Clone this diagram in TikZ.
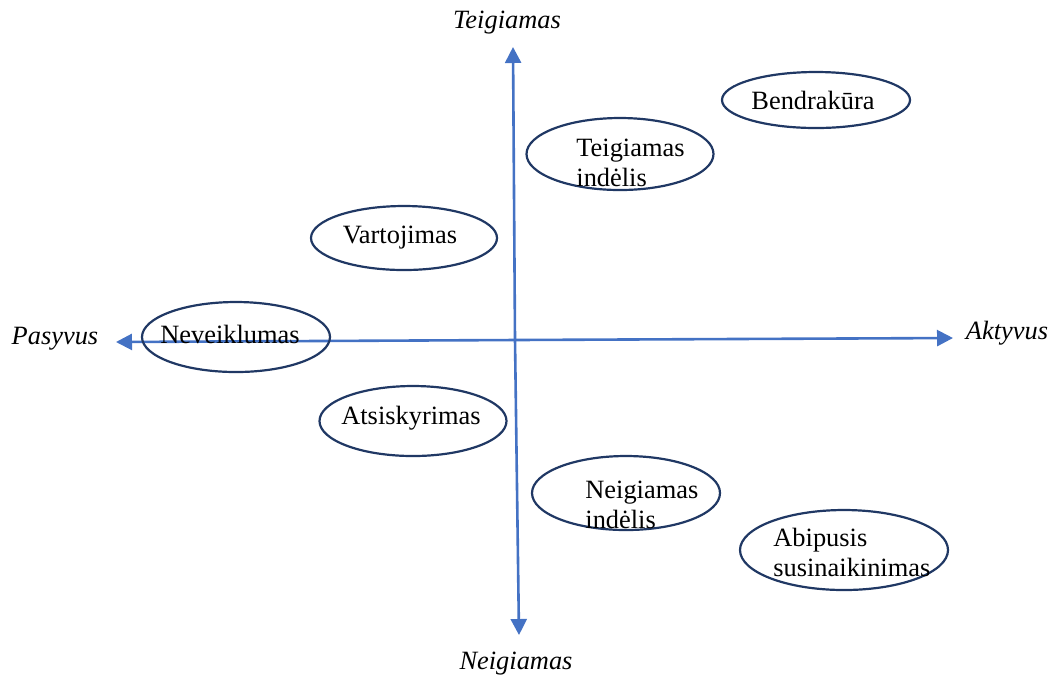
\documentclass[tikz,border=0pt]{standalone}
\usepackage{fontspec}
\setmainfont{Liberation Serif}
\usetikzlibrary{arrows.meta,shapes.geometric}
\definecolor{axisblue}{HTML}{4472C4}
\definecolor{ringnavy}{HTML}{203864}
\begin{document}
\begin{tikzpicture}[x=0.5pt,y=-0.5pt,
  axisline/.style={draw=axisblue,line width=1.3pt,-{Triangle[length=8pt,width=8pt]}},
  ring/.style={draw=ringnavy,line width=1.1pt,ellipse,inner sep=0pt},
  txt/.style={inner sep=0pt,font=\fontsize{13.2}{15}\selectfont},
  axlabel/.style={txt,font=\fontsize{13.2}{15}\selectfont\itshape}]
\useasboundingbox (0,0) rectangle (1052,677);

% axes
\coordinate (o) at (515,340);
\coordinate (top) at (513,47);
\coordinate (bot) at (519,635);
\coordinate (lft) at (116,342);
\coordinate (rgt) at (953,338);
\draw[axisline] (o) -- (top);
\draw[axisline] (o) -- (bot);
\draw[axisline] (o) -- (lft);
\draw[axisline] (o) -- (rgt);

\node[axlabel] (lt) at (507,23) {Teigiamas};
\node[axlabel] (lb) at (516,664) {Neigiamas};
\node[axlabel] (ll) at (55,339) {Pasyvus};
\node[axlabel] (lr) at (1007,333) {Aktyvus};

% ellipses (sizes in pt, half the pixel extent)
\node[ring,minimum width=94pt,minimum height=28pt] (e1) at (816,100) {};
\node[ring,minimum width=93.5pt,minimum height=36pt] (e2) at (620,154) {};
\node[ring,minimum width=93pt,minimum height=32pt] (e3) at (404,238) {};
\node[ring,minimum width=94pt,minimum height=35pt] (e4) at (236,337) {};
\node[ring,minimum width=93.5pt,minimum height=35pt] (e5) at (413,421) {};
\node[ring,minimum width=94pt,minimum height=37pt] (e6) at (626,493) {};
\node[ring,minimum width=104pt,minimum height=40pt] (e7) at (844,550) {};

% texts
\node[txt] (t1) at (813,100) {Bendrakūra};
\node[txt,anchor=west,align=left] (t2) at (576,163) {Teigiamas\\indėlis};
\node[txt] (t3) at (400,238) {Vartojimas};
\node[txt] (t4) at (230,334) {Neveiklumas};
\node[txt] (t5) at (411,418) {Atsiskyrimas};
\node[txt,anchor=west,align=left] (t6) at (585,505) {Neigiamas\\indėlis};
\node[txt,anchor=west,align=left] (t7) at (773,552) {Abipusis\\susinaikinimas};
\end{tikzpicture}
\end{document}
